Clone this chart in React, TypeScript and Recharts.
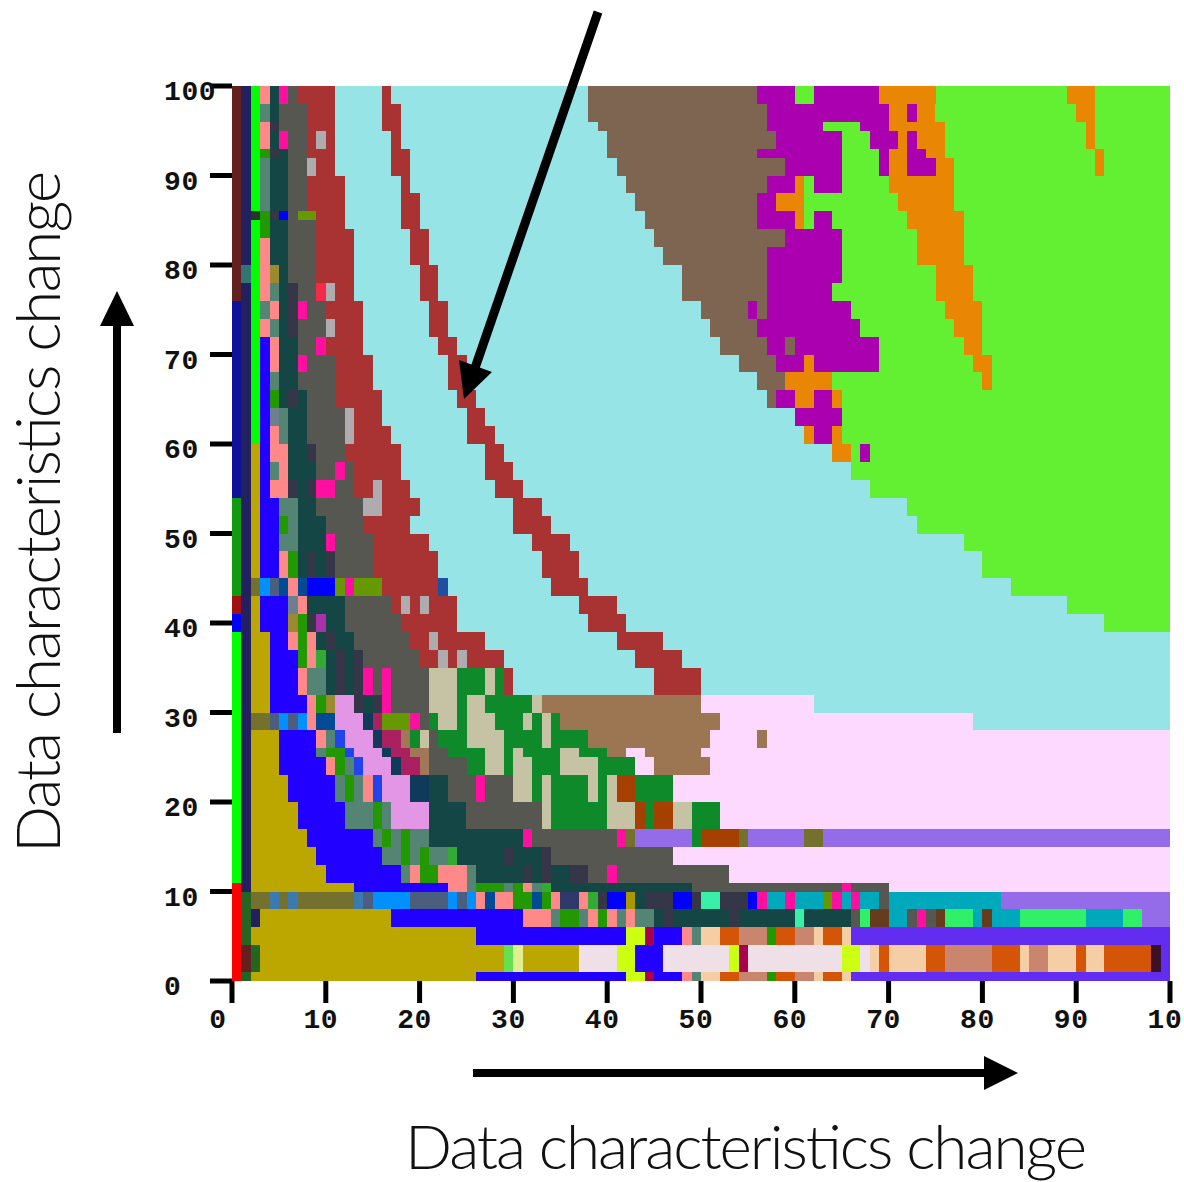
import { Bar, Cell, ComposedChart, XAxis, YAxis } from "recharts";

// plan id -> colour
const planColors: Record<string, string> = {
  a: "#64201f", B: "#23205f", G: "#00ff00", P: "#ff8888", T: "#134644", M: "#ff0fa0",
  D: "#555750", R: "#a93232", C: "#97e4e7", S: "#aeacae", t: "#548474", K: "#353748",
  g: "#229900", V: "#669900", U: "#2200ff", u: "#0000ff", N: "#10109a", Y: "#bca600",
  x: "#24382a", A: "#aa2060", c: "#c6c2a4", e: "#0f8a2a", F: "#9c7552", Q: "#fdd9ff",
  E: "#7e6552", y: "#ab00b0", f: "#e98705", L: "#e395e6", H: "#946be8", I: "#a54000",
  O: "#74702e", W: "#4a5f80", X: "#0090ff", n: "#024a94", v: "#0f3a5a", w: "#3a7ab0",
  j: "#226622", Z: "#ccff11", l: "#eee0e6", b: "#f6cea6", o: "#d55508", r: "#c9856e",
  s: "#ff0000", z: "#64f032", "1": "#317575", "2": "#9c8b2e", "3": "#f42a4a",
  "4": "#6d7f8e", "5": "#0f9a10", "6": "#1f4fa0", "7": "#a01010", "8": "#2244ee",
  "9": "#a832ac", "0": "#33aa33", i: "#a07858", k: "#2f3a6a", p: "#a89800",
  m: "#38f0a8", d: "#00a8bc", h: "#30f068", q: "#663c1c", J: "#a8004a",
  "+": "#622df0", "*": "#66e050", "~": "#e0f090", "^": "#3c1028",
};

// top row first: [how many rows, "plan+first x value" ...]
const planRows: [number, string][] = [
  [2, "a0 B1 G2 P3 T4 M5 D6 R7 C11 R16 C17 E38 y56 z60 y62 f69 z75 f89 z92"],
  [2, "a0 B1 G2 t3 T4 D5 R8 C11 R16 C18 E38 y57 f70 y72 f73 z75 f90 z92"],
  [1, "a0 B1 G2 P3 K4 D5 R8 C11 R16 C18 E39 y57 z63 y67 f70 z76 f91 z92"],
  [2, "a0 B1 G2 P3 T4 M5 D6 R8 S9 R10 C11 R17 C18 E40 y58 z65 y68 f71 y72 f73 z76 f91 z92"],
  [1, "a0 B1 G2 g3 K4 T5 D6 R8 C11 R17 C19 E40 y56 z65 y69 f70 y72 f74 z76 f92 z93"],
  [2, "a0 B1 G2 t3 T4 D6 S8 R9 C11 R17 C19 E41 y59 z65 y69 f70 y72 f75 z77 f92 z93"],
  [2, "a0 B1 G2 t3 T4 D6 R8 C12 R18 C19 E42 y57 f60 z61 y62 z65 f70 z77"],
  [2, "a0 B1 G2 t3 T4 D6 R8 C12 R18 C20 E43 y56 f58 z61 f71 z77"],
  [1, "a0 B1 x2 g3 K4 u5 D6 V7 R9 C12 R18 C20 E44 y56 f60 z61 y62 z64 f72 z78"],
  [1, "a0 B1 G2 g3 T4 D6 R9 C12 R18 C20 E44 y56 f60 z61 y62 z64 f72 z78"],
  [1, "a0 B1 G2 g3 T4 D6 R9 C13 R19 C21 E45 y59 z65 f73 z78"],
  [1, "a0 B1 G2 P3 T4 D6 R9 C13 R19 C21 E45 y59 z65 f73 z78"],
  [2, "a0 B1 G2 P3 T4 D6 R9 C13 R19 C21 E46 y57 z65 f73 z78"],
  [2, "a0 11 G2 P3 24 T5 D6 R9 C13 R20 C22 E48 y57 z65 f75 z79"],
  [2, "a0 B1 G2 P3 t4 T5 K6 D7 39 S10 R11 C13 R20 C22 E48 y57 z64 f75 z79"],
  [2, "N0 B1 G2 t3 P4 T5 K6 M7 D8 R10 C14 R21 C23 E50 y55 E56 y57 z66 f76 z80"],
  [2, "N0 B1 G2 P3 t4 T5 K6 D7 S10 R11 C14 R21 C23 E51 y56 z67 f77 z80"],
  [2, "N0 B1 G2 U3 P4 T5 D7 M9 R10 C14 R22 C24 E52 y57 E59 y60 z69 f78 z80"],
  [2, "N0 B1 G2 U3 P4 T5 M7 D8 R11 C15 R23 C25 E54 y58 f61 y62 z69 f79 z81"],
  [2, "N0 B1 G2 U3 t4 T5 D7 R11 C15 R23 C25 E56 f59 z64 f80 z81"],
  [2, "N0 B1 G2 U3 g4 T5 K6 T7 D8 R11 C16 R24 C26 E57 y58 f60 y62 f64 z65"],
  [2, "N0 B1 G2 U3 44 t5 T6 D8 S12 R13 C16 R25 C27 y60 z65"],
  [2, "N0 B1 G2 U3 P4 t5 T6 D8 S12 R13 C17 R25 C28 f61 y62 f64 z65"],
  [2, "N0 B1 Y2 U3 P4 T6 K8 D9 R12 C18 R27 C29 f64 z66 y67 z68"],
  [2, "N0 B1 Y2 U3 t4 P5 T6 D9 M11 D12 R13 C18 R27 C30 z66"],
  [2, "N0 B1 Y2 U3 P4 K6 T7 K8 M9 D11 R13 S15 R16 C19 R28 C31 z68"],
  [2, "50 B1 Y2 U3 t5 T7 D9 S14 R16 C20 R30 C33 z72"],
  [2, "50 B1 Y2 U3 g5 t6 T7 D10 R14 C19 R30 C34 z73"],
  [2, "50 B1 Y2 U3 t5 T7 M10 D11 R15 C21 R32 C36 z78"],
  [3, "50 B1 Y2 U3 P5 g6 T7 K8 T9 K10 D11 R15 C22 R33 C37 z80"],
  [2, "50 B1 O2 X3 W4 n5 P6 n7 u8 V11 M12 V13 R16 622 C23 R34 C38 z83"],
  [2, "70 B1 Y2 U3 46 P7 T8 D12 R17 S18 R19 S20 R21 C24 R37 C41 z89"],
  [2, "u0 B1 Y2 U3 26 g7 K8 99 T10 D12 R18 C24 R38 C42 z93"],
  [2, "G0 B1 Y2 U4 P6 g7 P8 T9 K10 T11 D13 R19 S21 R22 C27 R41 C46"],
  [2, "G0 B1 Y2 U4 g7 P8 09 T10 K11 T12 K13 D14 R20 S22 R23 S24 R25 C29 R43 C48"],
  [3, "G0 B1 Y2 U4 P7 t8 T10 K11 T12 K13 M14 D15 M16 D17 c21 e24 c27 e28 R29 C30 R45 C50"],
  [2, "G0 B1 Y2 U4 P8 g9 210 L11 K13 T14 K15 M16 D17 c21 e24 c25 e27 c32 F33 Q50 C62"],
  [2, "G0 B1 O2 W4 X5 W6 X7 P8 n9 L11 v14 A15 V16 M19 D20 e21 c22 e24 c25 e28 c31 e32 c33 e34 F35 Q52 C79"],
  [2, "G0 B1 Y2 U5 P9 t10 811 L12 v15 A16 i18 e19 c20 D21 e22 c25 e29 c33 e34 F38 Q51 F56 Q57"],
  [1, "G0 B1 Y2 U5 t9 g10 812 L13 v16 A17 i19 D21 e23 c27 e29 c30 e31 c35 e37 F40 Q42 F44 Q50"],
  [2, "G0 B1 Y2 U5 P10 g11 t12 813 L14 v17 A18 i20 D21 e25 c27 e29 c30 e32 c35 e39 Q43 F45 Q51"],
  [3, "G0 B1 Y2 U6 t11 g12 t13 P14 815 L16 v19 T21 D23 M26 D27 c30 e32 c33 e34 c38 e39 c40 I41 e43 Q47"],
  [3, "G0 B1 Y2 U7 t12 g15 t16 L17 T21 D25 c33 e34 c40 I43 e44 I45 c47 e49 Q52"],
  [2, "G0 B1 Y2 U8 t15 g16 t17 g18 t19 T21 M31 D32 M41 O42 H43 e49 I50 O54 H55 O61 H63"],
  [2, "G0 B1 Y2 U9 t16 g18 t19 g20 t21 023 T24 K29 T30 K33 D34 Q47"],
  [2, "G0 B1 Y2 U10 t18 P19 g20 P22 t25 T26 K31 T32 K33 T34 K36 D38 M40 D41 Q53"],
  [1, "s0 B1 Y2 U13 P23 t25 g26 t29 g30 P31 t32 033 T34 D49 M65 D66 Q70"],
  [2, "s0 j1 O2 w4 O5 w6 O7 w13 W14 X15 W19 X23 W24 X25 P26 n27 P28 g30 n32 g33 P34 k35 P37 038 K39 u40 p42 T43 K44 u47 K49 m50 K52 u55 M56 d57 M59 d60 V63 M64 d65 M66 d67 D69 d70 H82"],
  [2, "s0 j1 B2 Y3 U17 P31 t34 g35 t37 P38 g39 P40 t41 P42 t43 T45 K46 T47 K53 T54 m60 T61 D66 h67 q68 d70 D72 M73 D74 q75 h76 d79 q80 d81 h84 d91 h95 H97"],
  [2, "s0 j1 Y2 U26 Z42 J44 U45 P48 t49 b50 o52 r54 g57 o58 r60 b62 o63 b65 +66"],
  [3, "s0 a1 j2 Y3 *29 ~30 Y31 l37 Z41 U43 l46 Z53 J54 l55 Z65 l67 b68 o69 b70 o74 r76 o81 b84 r85 b87 o90 b91 o93 ^98 +99"],
  [1, "s0 j1 Y2 U26 Z42 J44 U45 P48 t49 b50 o52 r54 g57 o58 r60 b62 o63 b65 +66"],
];

const axisTicks = [0, 10, 20, 30, 40, 50, 60, 70, 80, 90, 100];
const axisTitle = "Data characteristics change";

// expand the rows into per-row runs, stacked left to right
const runsByRow = planRows.flatMap(([count, spec]) => {
  const tokens = spec.split(" ").map((t) => ({ plan: t[0], start: Number(t.slice(1)) }));
  const runs = tokens.map((t, i) => ({
    plan: t.plan,
    len: (i + 1 < tokens.length ? tokens[i + 1].start : 100) - t.start,
  }));
  return Array.from({ length: count }, () => runs);
});
const maxRuns = Math.max(...runsByRow.map((r) => r.length));
const runKeys = Array.from({ length: maxRuns }, (_, k) => k);
const tableData = runsByRow.map((runs, i) => {
  // level spans 0..100 so the tick axis gets the full domain
  const row: Record<string, number> = { row: i, level: ((99 - i) * 100) / 99 };
  runs.forEach((r, k) => {
    row[`run${k}`] = r.len;
  });
  return row;
});

const tickFont = {
  fontFamily: "'Liberation Mono', monospace",
  fontWeight: 700,
  fontSize: 28,
  letterSpacing: 0.6,
  fill: "#111",
};

function XTick({ x, y, payload }: any) {
  const v = payload.value;
  return (
    <text x={x + (v === 0 ? -14 : -5)} y={y + 23} textAnchor="middle" {...tickFont}>
      {v === 100 ? "10" : v}
    </text>
  );
}

function YTick({ x, y, payload }: any) {
  return (
    <text x={x - 44} y={y + 14} textAnchor="start" {...tickFont}>
      {payload.value}
    </text>
  );
}

const titleStyle = {
  fontFamily: "Lato, sans-serif",
  fontWeight: 300,
  fontSize: 62,
  fill: "#111",
};

export default function App() {
  return (
    <div style={{ position: "absolute", left: 0, top: 0, width: 1184, height: 1182, background: "#fff", overflow: "hidden" }}>
      <ComposedChart
        width={1184}
        height={1182}
        data={tableData}
        layout="vertical"
        barCategoryGap={0}
        barGap={0}
        margin={{ top: 86, right: 14, bottom: 101, left: 132 }}
      >
        <XAxis
          type="number"
          domain={[0, 100]}
          ticks={axisTicks}
          interval={0}
          height={100}
          axisLine={false}
          tickLine={{ stroke: "#000", strokeWidth: 5 }}
          tickSize={22}
          tick={<XTick />}
        />
        <YAxis yAxisId="rows" type="category" dataKey="row" width={0} hide />
        <YAxis
          yAxisId="ticks"
          type="number"
          dataKey="level"
          domain={[0, 100]}
          ticks={axisTicks}
          interval={0}
          reversed
          width={100}
          axisLine={false}
          tickLine={{ stroke: "#000", strokeWidth: 5 }}
          tickSize={22}
          tick={<YTick />}
        />
        {runKeys.map((k) => (
          <Bar
            key={k}
            yAxisId="rows"
            dataKey={`run${k}`}
            stackId="plan"
            isAnimationActive={false}
            shapeRendering="crispEdges"
          >
            {runsByRow.map((runs, i) => (
              <Cell key={i} fill={runs[k] ? planColors[runs[k].plan] : "none"} />
            ))}
          </Bar>
        ))}
      </ComposedChart>

      <svg width={1184} height={1182} style={{ position: "absolute", left: 0, top: 0, pointerEvents: "none" }}>
        {/* callout arrow */}
        <line x1={598} y1={12} x2={475} y2={368} stroke="#000" strokeWidth={9} />
        <polygon points="459,360 492,372 464,399" fill="#000" />
        {/* y direction arrow */}
        <rect x={113} y={320} width={8} height={413} fill="#000" />
        <polygon points="117,291 134,326 100,326" fill="#000" />
        {/* x direction arrow */}
        <rect x={473} y={1069} width={515} height={8} fill="#000" />
        <polygon points="1018,1073 984,1056 984,1090" fill="#000" />
        <text x={405} y={1169} textLength={682} lengthAdjust="spacing" {...titleStyle}>
          {axisTitle}
        </text>
        <text
          transform="translate(60,853) rotate(-90)"
          textLength={682}
          lengthAdjust="spacing"
          {...titleStyle}
        >
          {axisTitle}
        </text>
      </svg>
    </div>
  );
}
